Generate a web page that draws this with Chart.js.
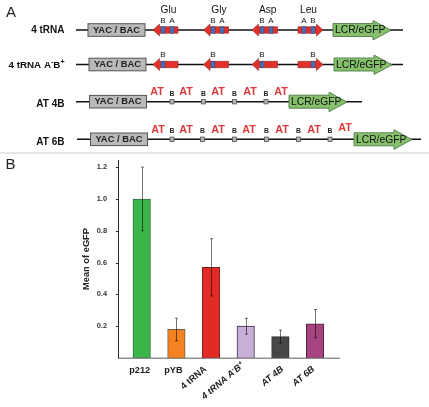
<!DOCTYPE html>
<html><head><meta charset="utf-8">
<style>html,body{margin:0;padding:0;background:#fff}canvas{display:block;filter:blur(0.35px)}</style>
<script src="https://cdn.jsdelivr.net/npm/chart.js@4"></script>
</head><body>
<canvas id="c" width="429" height="407" style="width:429px;height:407px"></canvas>
<script>
// Chart data
const categories = ['p212','pYB','4 tRNA','4 tRNA A⁻B⁺','AT 4B','AT 6B'];
const meanValues = [1.0,0.18,0.57,0.2,0.134,0.215];
const errorLow  = [0.8,0.108,0.39,0.15,0.094,0.127];
const errorHigh = [1.2,0.25,0.75,0.25,0.175,0.305];
const barColors = ['#3cb54a','#f58220','#e32b26','#c7afd8','#454846','#a6447f'];
const barEdges  = ['#3a6e44','#6d5f50','#7c2020','#3d2f48','#303231','#4d2040'];
const yTickValues = [0.2,0.4,0.6,0.8,1.0,1.2];
const yTitle = 'Mean of eGFP';
const panelLetters = ['A','B'];

// Schematic panel content
const rowLabels = ['4 tRNA','4 tRNA A⁻B⁺','AT 4B','AT 6B'];
const geneNames = ['Glu','Gly','Asp','Leu'];
const rowY = [30,64.5,101.7,139.3];
const rowLine = [[76,403],[76,403],[76,362],[77,421]];
const yacLeft = [88,89,89.5,90.5];
const lcrLeft = [333,334,289,354];
const genes = [[153,178],[203.5,228.5],[252,277.5],[323,298]];
const boxesB = [163,213,262,313];
const boxesA = [172,222,271,304];
const siteX4 = [172,203.5,234.5,266];
const siteX6 = [172,202.5,234.5,266.5,298.5,330];
const atX4 = [157,186,218,250,281];
const atX6 = [158,186,218,249,282,314,345];
// nudges of the slanted / upright category labels, relative to each bar
const labelDx = [-2,-3,-5.5,-2.5,2,-1.5];
const labelDy = [12.5,12.5,10,6,10,10];

const SANS = '"Liberation Sans", Arial, sans-serif';

function txt(ctx,s,x,y,font,color,align){
  ctx.font=font; ctx.fillStyle=color; ctx.textAlign=align||'center'; ctx.textBaseline='middle';
  ctx.fillText(s,x,y);
}
// right-aligned text in which ⁻ and ⁺ are set as small raised signs
function labelEnd(ctx,s,x,y,style,size,color){
  const sup={'⁻':'-','⁺':'+'};
  const bits=[]; let run='';
  for(const ch of s){ if(sup[ch]){ if(run)bits.push([run,false]); run=''; bits.push([sup[ch],true]); } else run+=ch; }
  if(run)bits.push([run,false]);
  let cur=x;
  ctx.textAlign='right'; ctx.textBaseline='middle'; ctx.fillStyle=color;
  for(let i=bits.length-1;i>=0;i--){
    const b=bits[i];
    ctx.font=style+' '+(b[1]?size*0.72:size)+'px '+SANS;
    ctx.fillText(b[0],cur,b[1]?y-size*0.3:y);
    cur-=ctx.measureText(b[0]).width;
  }
}
function poly(ctx,pts,fill,stroke,lw){
  ctx.beginPath(); pts.forEach((p,i)=>i?ctx.lineTo(p[0],p[1]):ctx.moveTo(p[0],p[1])); ctx.closePath();
  ctx.fillStyle=fill; ctx.fill(); if(stroke){ctx.strokeStyle=stroke;ctx.lineWidth=lw||1;ctx.stroke();}
}
function geneArrow(ctx,tip,tail,y){
  const d=tip<tail?1:-1, hb=tip+d*6.5;
  poly(ctx,[[tip,y],[hb,y-6],[hb,y-3.2],[tail,y-3.2],[tail,y+3.2],[hb,y+3.2],[hb,y+6]],'#e3302a','#8e2a28',0.6);
}
function band(ctx,x,y){
  ctx.fillStyle='#4470b8'; ctx.fillRect(x-2,y-3.2,4,6.4);
  ctx.strokeStyle='#54365a'; ctx.lineWidth=0.5; ctx.strokeRect(x-2,y-3.2,4,6.4);
}
function lcr(ctx,x,y){
  const end=x+58, hb=end-18;
  poly(ctx,[[x,y-6.5],[hb,y-6.5],[hb,y-9.5],[end,y+0.3],[hb,y+10],[hb,y+6.5],[x,y+6.5]],'#86c06c','#4e7f45',0.9);
  txt(ctx,'LCR/eGFP',x+2,y+0.5,'10.3px '+SANS,'#111','left');
}
function yac(ctx,x,y){
  ctx.fillStyle='#b9b9b9'; ctx.fillRect(x,y-6.3,57,12.6);
  ctx.strokeStyle='#555'; ctx.lineWidth=1; ctx.strokeRect(x,y-6.3,57,12.6);
  txt(ctx,'YAC / BAC',x+28.5,y,'bold 9.4px '+SANS,'#222');
}
function site(ctx,x,y){
  ctx.fillStyle='#b5b5b5'; ctx.fillRect(x-2,y-2.2,4,4.4);
  ctx.strokeStyle='#555'; ctx.lineWidth=0.8; ctx.strokeRect(x-2,y-2.2,4,4.4);
}

const schematicPlugin = {
  id:'schematic',
  beforeDraw(chart){
    const ctx=chart.ctx; ctx.save();
    ctx.fillStyle='#fff'; ctx.fillRect(0,0,429,407);
    txt(ctx,panelLetters[0],11,13,'15px '+SANS,'#222');
    txt(ctx,panelLetters[1],10.5,165,'15px '+SANS,'#222');
    ctx.fillStyle='#e6e6e6'; ctx.fillRect(0,152,429,2);

    rowLabels.forEach((label,r)=>{
      const y=rowY[r];
      const ly=y+(r>=2?2.5:0.5);
      labelEnd(ctx,label,64.5,ly,'bold',r===1?9.8:10,'#111');
      ctx.strokeStyle='#111'; ctx.lineWidth=1.4;
      ctx.beginPath(); ctx.moveTo(rowLine[r][0],y); ctx.lineTo(rowLine[r][1],y); ctx.stroke();
      yac(ctx,yacLeft[r],y);
      if(r<2){
        genes.forEach((g,i)=>{
          geneArrow(ctx,g[0],g[1],y);
          band(ctx,boxesB[i],y);
          txt(ctx,'B',boxesB[i],y-9.5,'8px '+SANS,'#111');
          if(r===0){
            band(ctx,boxesA[i],y);
            txt(ctx,'A',boxesA[i],y-9.5,'8px '+SANS,'#111');
            txt(ctx,geneNames[i],(g[0]+g[1])/2+(i===3?-2:3),10.5,'10.2px '+SANS,'#111');
          }
        });
      } else {
        const sites=r===2?siteX4:siteX6, ats=r===2?atX4:atX6;
        sites.forEach(x=>{
          site(ctx,x,y);
          txt(ctx,'B',x,y-8,'bold 6.8px '+SANS,'#222');
        });
        ats.forEach((x,i)=>{
          const up=(r===3&&i===ats.length-1)?2:0;
          txt(ctx,'AT',x,y-9.7-up,'bold 10.8px '+SANS,'#dc3a3c');
        });
      }
      lcr(ctx,lcrLeft[r],y);
    });
    ctx.restore();
  },
  afterDatasetsDraw(chart){
    const ctx=chart.ctx, xs=chart.scales.x, ys=chart.scales.y;
    ctx.save();
    // axis lines
    ctx.strokeStyle='#5e5e5e'; ctx.lineWidth=1;
    ctx.beginPath(); ctx.moveTo(118,ys.getPixelForValue(0)+0.2); ctx.lineTo(xs.right,ys.getPixelForValue(0)+0.2); ctx.stroke();
    ctx.strokeStyle='#2c2c2c';
    ctx.beginPath(); ctx.moveTo(118.5,ys.top); ctx.lineTo(118.5,ys.getPixelForValue(0)+0.5); ctx.stroke();
    // y tick marks
    yTickValues.forEach(v=>{
      const py=Math.round(ys.getPixelForValue(v))+0.5;
      ctx.beginPath(); ctx.moveTo(116,py); ctx.lineTo(118,py); ctx.stroke();
    });
    // error bars
    ctx.strokeStyle='rgba(0,0,0,0.55)'; ctx.lineWidth=1;
    categories.forEach((c,i)=>{
      const x=Math.round(xs.getPixelForValue(i))+0.5, hi=ys.getPixelForValue(errorHigh[i]), lo=ys.getPixelForValue(errorLow[i]);
      ctx.beginPath();
      ctx.moveTo(x,hi); ctx.lineTo(x,lo);
      ctx.moveTo(x-1.5,hi); ctx.lineTo(x+1.5,hi);
      ctx.moveTo(x-1.5,lo); ctx.lineTo(x+1.5,lo);
      ctx.stroke();
    });
    // category labels, two upright then slanted
    const by=ys.getPixelForValue(0);
    categories.forEach((c,i)=>{
      const x=xs.getPixelForValue(i)+labelDx[i], yy=by+labelDy[i];
      if(i<2){
        txt(ctx,c,x,yy,'bold 9.2px '+SANS,'#1c1c1c');
      } else {
        ctx.save();
        ctx.translate(x,yy); ctx.rotate(-40*Math.PI/180);
        labelEnd(ctx,c,0,0,i>=3?'italic bold':'bold',9.2,'#1c1c1c');
        ctx.restore();
      }
    });
    ctx.restore();
  }
};

new Chart(document.getElementById('c'),{
  type:'bar',
  data:{
    labels:categories,
    datasets:[{
      data:categories.map((c,i)=>({x:i,y:meanValues[i]})),
      backgroundColor:barColors,
      borderColor:barEdges,
      borderWidth:1,
      barThickness:17.5
    }]
  },
  plugins:[schematicPlugin],
  options:{
    responsive:false,
    animation:false,
    devicePixelRatio:1,
    layout:{padding:{left:0,top:160,right:89,bottom:0}},
    plugins:{legend:{display:false},tooltip:{enabled:false},title:{display:false}},
    scales:{
      x:{
        type:'linear',
        offset:false,
        min:-0.684,
        max:5.72,
        grid:{display:false},
        border:{display:false},
        ticks:{display:false},
        afterFit(s){s.height=49;}
      },
      y:{
        min:0,
        max:1.245,
        grid:{display:false,drawOnChartArea:false},
        border:{display:false},
        afterBuildTicks(s){s.ticks=yTickValues.map(v=>({value:v}));},
        afterFit(s){s.width=118;},
        ticks:{
          padding:3,
          font:{family:'"Liberation Sans"',size:7.4,weight:'bold'},
          color:'#333',
          callback:v=>v.toFixed(1)
        },
        title:{
          display:true,
          text:yTitle,
          color:'#222',
          font:{family:'"Liberation Sans"',size:9.3,weight:'bold'},
          padding:{top:81,bottom:0}
        }
      }
    }
  }
});
</script>
</body></html>
